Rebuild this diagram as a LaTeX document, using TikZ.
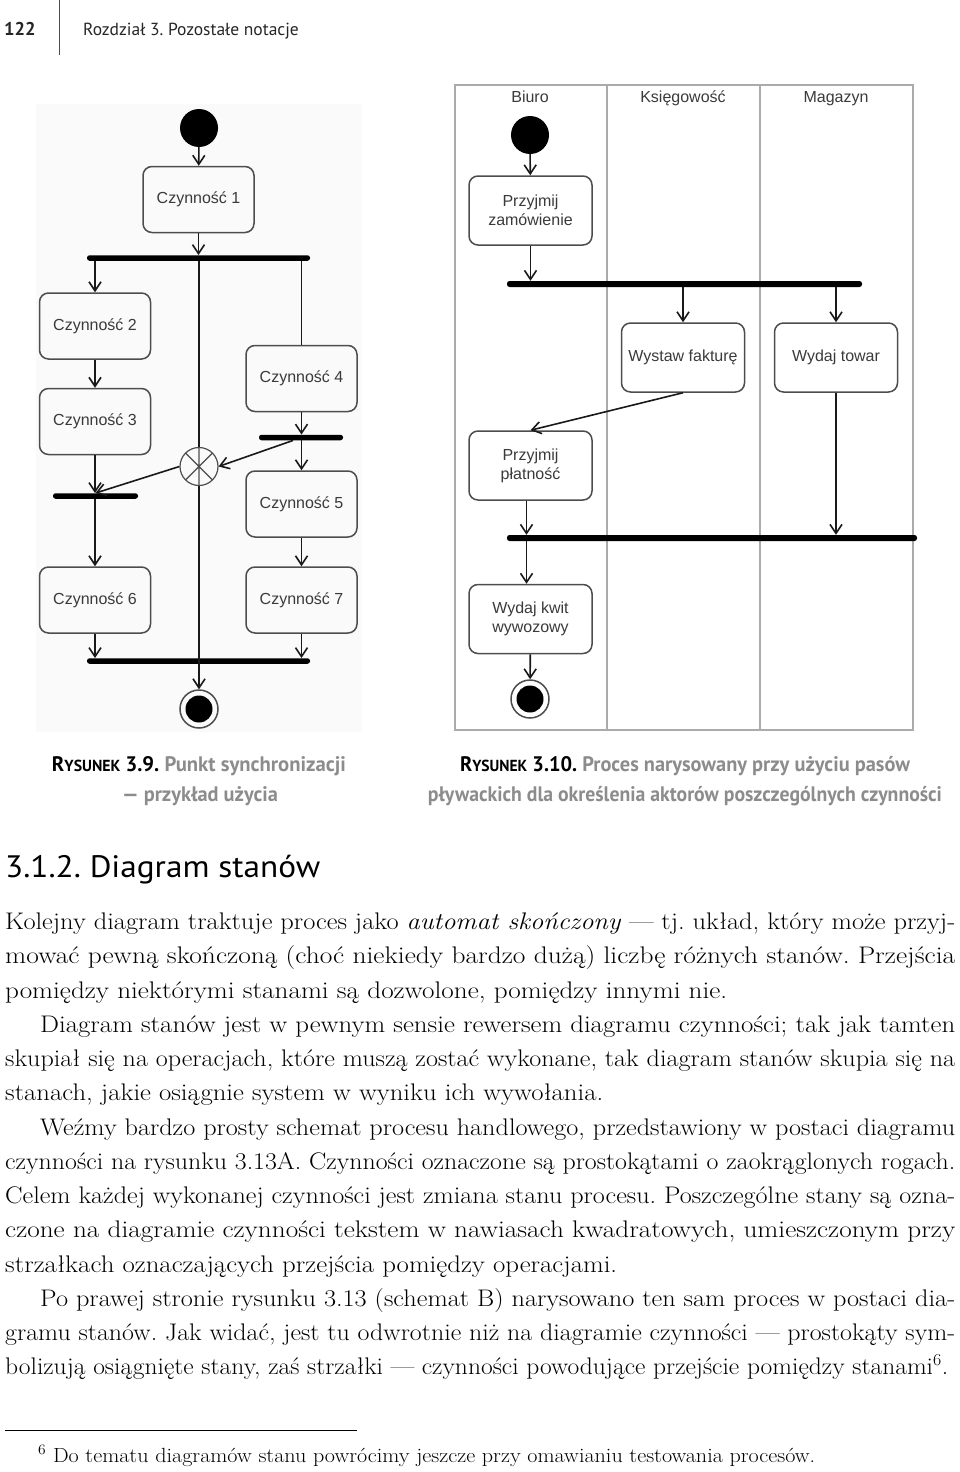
\documentclass[tikz,border=0pt]{standalone}
\usepackage{fontspec}
\usepackage{graphicx}
\newfontfamily\diafont{Liberation Sans}
\newfontfamily\headfont{PT Sans}
\usetikzlibrary{arrows.meta}
\frenchspacing

\definecolor{boxgray}{HTML}{4D4D4D}
\definecolor{txtgray}{HTML}{3A3A3A}
\definecolor{lanegray}{HTML}{ABABAB}
\definecolor{capgray}{HTML}{8C8C8C}
\definecolor{bggray}{HTML}{FAFAFA}

\tikzstyle{aS}=[rectangle,rounded corners=9pt,draw=boxgray,line width=1.5pt,minimum width=111pt,minimum height=66pt,inner sep=0pt,font=\diafont\fontsize{16}{19}\selectfont,text=txtgray,align=center]
\tikzstyle{pS}=[aS,minimum width=123pt,minimum height=69pt]
\tikzstyle{bS}=[rectangle,fill=black,minimum height=5.5pt,inner sep=0pt,rounded corners=2.5pt]
\tikzstyle{sS}=[circle,fill=black,minimum size=38pt,inner sep=0pt]
\tikzstyle{fS}=[circle,draw=boxgray,line width=1.5pt,minimum size=38pt,inner sep=0pt,path picture={\fill[black] (path picture bounding box.center) circle (13.5pt);}]
\tikzstyle{xS}=[circle,draw=boxgray,line width=1.2pt,minimum size=38pt,inner sep=0pt,path picture={\draw[boxgray,line width=1.2pt] (path picture bounding box.north west) -- (path picture bounding box.south east) (path picture bounding box.north east) -- (path picture bounding box.south west) (path picture bounding box.north) -- (path picture bounding box.south);}]
\tikzstyle{eS}=[line width=1.6pt,draw=black!90,-{Straight Barb[length=9pt,width=12pt]}]
\tikzstyle{eP}=[line width=1.6pt,draw=black!90]
\tikzstyle{lnS}=[draw=lanegray,line width=1.5pt]
\tikzstyle{laneS}=[anchor=base,inner sep=0pt,font=\diafont\fontsize{16}{16}\selectfont,text=txtgray]
\tikzstyle{tS}=[anchor=base west,inner sep=0pt,font=\fontsize{24}{24}\selectfont]
\tikzstyle{hS}=[anchor=base west,inner sep=0pt,font=\headfont\fontsize{17.5}{17.5}\selectfont,text=black!85]
\tikzstyle{cS}=[anchor=base,inner sep=0pt,font=\headfont\bfseries\fontsize{21}{21}\selectfont,text=capgray]

\begin{document}
\begin{tikzpicture}[x=1pt,y=-1pt]%[1 unit = 1 px of the page]
                \useasboundingbox (0,0) rectangle (960,1472);
                % page head
                \draw (4,36) node[hS,font=\headfont\bfseries\fontsize{18.5}{18.5}\selectfont] (pg) {122};
                \draw (83,36) node[hS] (ch) {Rozdział 3. Pozostałe notacje};
                \draw[line width=1.2pt,black!70] (59.5,0) -- (59.5,55);

                % rysunek 3.9
                \fill[bggray] (36,104) rectangle (362,732);
                \draw (199,128) node[sS] (s1) {};
                \draw (198.5,199.5) node[aS] (c1) {Czynność 1};
                \draw (198.5,258) node[bS,minimum width=223pt] (b1) {};
                \draw (95,326) node[aS] (c2) {Czynność 2};
                \draw (95,421.5) node[aS] (c3) {Czynność 3};
                \draw (301.5,378.5) node[aS] (c4) {Czynność 4};
                \draw (301,437.5) node[bS,minimum width=84pt] (b2) {};
                \draw (199,466.5) node[xS] (x1) {};
                \draw (95.5,496) node[bS,minimum width=85pt] (b3) {};
                \draw (301.5,504) node[aS] (c5) {Czynność 5};
                \draw (95,600) node[aS] (c6) {Czynność 6};
                \draw (301.5,600) node[aS] (c7) {Czynność 7};
                \draw (198.5,661) node[bS,minimum width=223pt] (b4) {};
                \draw (199,709) node[fS] (f1) {};
                \path
                    (s1) edge[eS] (c1)
                    (c1.south) edge[eS] (c1.south |- b1.north)
                    (c2.north |- b1.south) edge[eS] (c2.north)
                    (x1 |- b1.south) edge[eP] (x1.north)
                    (c4.north |- b1.south) edge[eP] (c4.north)
                    (c2) edge[eS] (c3)
                    (c4.south) edge[eS] (c4.south |- b2.north)
                    (c5.north |- b2.south) edge[eS] (c5.north)
                    ([xshift=-8pt]b2.south) edge[eS] (x1.east)
                    (x1.west) edge[eS] (b3.north)
                    (c3.south) edge[eS] (c3.south |- b3.north)
                    (c6.north |- b3.south) edge[eS] (c6.north)
                    (c5) edge[eS] (c7)
                    (c6.south) edge[eS] (c6.south |- b4.north)
                    (c7.south) edge[eS] (c7.south |- b4.north)
                    (x1.south) edge[eS] (f1.north)
                ;

                % rysunek 3.10, pasy
                \draw[lnS] (455,85) rectangle (913,730);
                \draw[lnS] (607,85) -- (607,730) (760,85) -- (760,730);
                \draw (530,102) node[laneS] (t1) {Biuro};
                \draw (683,102) node[laneS] (t2) {Księgowość};
                \draw (836,102) node[laneS] (t3) {Magazyn};
                \draw (530,135) node[sS] (s2) {};
                \draw (530.5,210.5) node[pS] (p1) {Przyjmij\\zamówienie};
                \draw (684.5,284) node[bS,minimum width=355pt,minimum height=6pt] (b5) {};
                \draw (683,357.5) node[pS] (p2) {Wystaw fakturę};
                \draw (836,357.5) node[pS] (p3) {Wydaj towar};
                \draw (530.5,465.5) node[pS] (p4) {Przyjmij\\płatność};
                \draw (712,538) node[bS,minimum width=410pt,minimum height=6pt] (b6) {};
                \draw (530.5,619) node[pS] (p5) {Wydaj kwit\\wywozowy};
                \draw (530,699) node[fS] (f2) {};
                \path
                    (s2) edge[eS] (p1)
                    (p1.south) edge[eS] (p1.south |- b5.north)
                    (p2.north |- b5.south) edge[eS] (p2.north)
                    (p3.north |- b5.south) edge[eS] (p3.north)
                    (p2.south) edge[eS] (p4.north)
                    (p3.south) edge[eS] (p3.south |- b6.north)
                    ([xshift=-4pt]p4.south) edge[eS] ([xshift=-4pt]p4.south |- b6.north)
                    ([xshift=-4pt]p5.north |- b6.south) edge[eS] ([xshift=-4pt]p5.north)
                    (p5) edge[eS] (f2)
                ;

                % podpisy
                \draw (199,771) node[cS] (k1) {\resizebox{294pt}{\height}{\textcolor{black}{R{\fontsize{16}{16}\selectfont YSUNEK} 3.9.} Punkt synchronizacji}};
                \draw (200,801) node[cS] (k2) {\resizebox{156pt}{\height}{— przykład użycia}};
                \draw (685,771) node[cS] (k3) {\resizebox{450pt}{\height}{\textcolor{black}{R{\fontsize{16}{16}\selectfont YSUNEK} 3.10.} Proces narysowany przy użyciu pasów}};
                \draw (685,801) node[cS] (k4) {\resizebox{514pt}{\height}{pływackich dla określenia aktorów poszczególnych czynności}};

                % tekst
                \draw (5,877) node[hS,font=\headfont\fontsize{31}{31}\selectfont,text=black] (sec) {\resizebox{315pt}{\height}{3.1.2. Diagram stanów}};
                \draw (5,929.5) node[tS] (l1) {\resizebox{950pt}{\height}{Kolejny diagram traktuje proces jako \textit{automat skończony} — tj. układ, który może przyj-}};
                \draw (5,963.75) node[tS] (l2) {\resizebox{950pt}{\height}{mować pewną skończoną (choć niekiedy bardzo dużą) liczbę różnych stanów. Przejścia}};
                \draw (5,998) node[tS] (l3) {\resizebox{722pt}{\height}{pomiędzy niektórymi stanami są dozwolone, pomiędzy innymi nie.}};
                \draw (40,1032.25) node[tS] (l4) {\resizebox{915pt}{\height}{Diagram stanów jest w pewnym sensie rewersem diagramu czynności; tak jak tamten}};
                \draw (5,1066.5) node[tS] (l5) {\resizebox{950pt}{\height}{skupiał się na operacjach, które muszą zostać wykonane, tak diagram stanów skupia się na}};
                \draw (5,1100.75) node[tS] (l6) {\resizebox{598pt}{\height}{stanach, jakie osiągnie system w wyniku ich wywołania.}};
                \draw (40,1135) node[tS] (l7) {\resizebox{915pt}{\height}{Weźmy bardzo prosty schemat procesu handlowego, przedstawiony w postaci diagramu}};
                \draw (5,1169.25) node[tS] (l8) {\resizebox{950pt}{\height}{czynności na rysunku 3.13A. Czynności oznaczone są prostokątami o zaokrąglonych rogach.}};
                \draw (5,1203.5) node[tS] (l9) {\resizebox{950pt}{\height}{Celem każdej wykonanej czynności jest zmiana stanu procesu. Poszczególne stany są ozna-}};
                \draw (5,1237.75) node[tS] (l10) {\resizebox{950pt}{\height}{czone na diagramie czynności tekstem w nawiasach kwadratowych, umieszczonym przy}};
                \draw (5,1272) node[tS] (l11) {\resizebox{612pt}{\height}{strzałkach oznaczających przejścia pomiędzy operacjami.}};
                \draw (40,1306.25) node[tS] (l12) {\resizebox{915pt}{\height}{Po prawej stronie rysunku 3.13 (schemat B) narysowano ten sam proces w postaci dia-}};
                \draw (5,1340.5) node[tS] (l13) {\resizebox{950pt}{\height}{gramu stanów. Jak widać, jest tu odwrotnie niż na diagramie czynności — prostokąty sym-}};
                \draw (5,1374.75) node[tS] (l14) {\resizebox{943pt}{\height}{bolizują osiągnięte stany, zaś strzałki — czynności powodujące przejście pomiędzy stanami\textsuperscript{6}.}};

                % przypis
                \draw[line width=1.2pt] (5,1430.5) -- (357,1430.5);
                \draw (38,1462) node[tS,font=\fontsize{20.5}{20.5}\selectfont] (fn) {\resizebox{777pt}{\height}{\textsuperscript{6} Do tematu diagramów stanu powrócimy jeszcze przy omawianiu testowania procesów.}};
        \end{tikzpicture}
\end{document}
